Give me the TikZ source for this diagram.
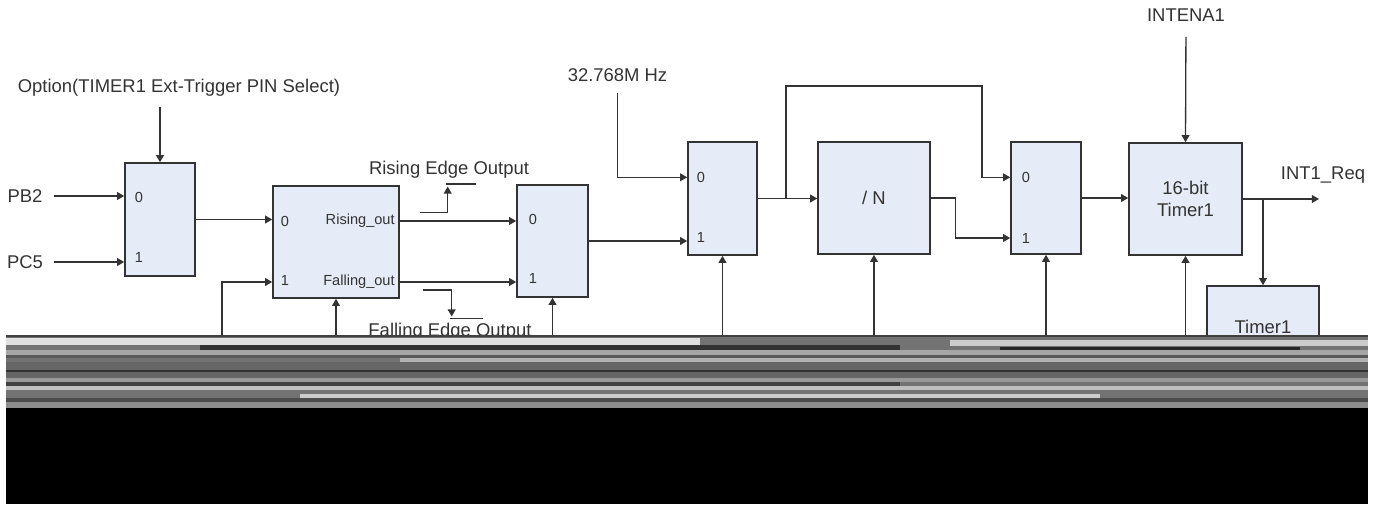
\documentclass[tikz,border=0pt]{standalone}
\usepackage{fontspec}
\setmainfont{Liberation Sans}
\usetikzlibrary{arrows.meta}
\definecolor{boxfill}{RGB}{229,235,247}
\definecolor{ink}{RGB}{51,51,51}
\tikzset{
  blk/.style={draw=ink, line width=0.9pt, fill=boxfill, inner sep=0pt, text=ink,
    font=\fontsize{10.5}{12.3}\selectfont, align=center},
  sig/.style={-{Triangle[length=4pt,width=4.4pt]}, draw=ink, line width=0.75pt},
  lbl/.style={text=ink, font=\fontsize{10.5}{12}\selectfont, inner sep=0pt},
  pinlbl/.style={text=ink, font=\fontsize{8.3}{10}\selectfont, inner sep=0pt},
}
\begin{document}
\begin{tikzpicture}[x=0.02cm, y=-0.02cm]
\useasboundingbox (0,0) rectangle (1383,504);
% blocks
\node[blk, minimum width=1.4cm, minimum height=2.26cm] (mux1) at (160,219.5) {};
\node[blk, minimum width=2.52cm, minimum height=2.24cm] (edge) at (336,242) {};
\node[blk, minimum width=1.42cm, minimum height=2.24cm] (mux3) at (552.5,241) {};
\node[blk, minimum width=1.38cm, minimum height=2.26cm] (mux4) at (722.5,198.5) {};
\node[blk, minimum width=2.24cm, minimum height=2.24cm] (divn) at (874,198) {/ N};
\node[blk, minimum width=1.4cm, minimum height=2.24cm] (mux5) at (1046,198) {};
\node[blk, minimum width=2.26cm, minimum height=2.24cm] (tmr) at (1185.5,199) {16-bit\\Timer1};
\node[blk, minimum width=2.24cm, minimum height=1.64cm] (reg) at (1263,327) {Timer1};
% pin numbers
\node[pinlbl] (m1a) at (139,197) {0};
\node[pinlbl] (m1b) at (139,257) {1};
\node[pinlbl] (e0) at (285,221) {0};
\node[pinlbl] (e1) at (285,280) {1};
\node[pinlbl, anchor=east] (rout) at (395,221) {Rising\_out};
\node[pinlbl, anchor=east] (fout) at (395,282) {Falling\_out};
\node[pinlbl] (m3a) at (533,219) {0};
\node[pinlbl] (m3b) at (533,278) {1};
\node[pinlbl] (m4a) at (701,177.3) {0};
\node[pinlbl] (m4b) at (701,237) {1};
\node[pinlbl] (m5a) at (1026,177.3) {0};
\node[pinlbl] (m5b) at (1026,238) {1};
% signal names
\node[lbl] (opt) at (179,88) {Option(TIMER1 Ext-Trigger PIN Select)};
\node[lbl] (pb2) at (25,196) {PB2};
\node[lbl] (pc5) at (25,262) {PC5};
\node[lbl] (rise) at (449,170) {Rising Edge Output};
\node[lbl] (fall) at (450,331.7) {Falling Edge Output};
\node[lbl] (clk) at (617.5,75) {32.768M Hz};
\node[lbl] (inten) at (1186,15) {INTENA1};
\node[lbl] (req) at (1323,175) {INT1\_Req};
% feeds coming up from below
\foreach \n/\x in {fb1/222, fb2/337, fb3/554, fb4/722, fb5/874, fb6/1046.7, fb7/1186}
  \coordinate (\n) at (\x,345);
\coordinate (br1) at (786,198.5);
\coordinate (lp) at (982,86);
\coordinate (rs0) at (420,212.7);
\coordinate (rs1) at (447.7,186.5);
\coordinate (fs0) at (423,290);
\coordinate (fs1) at (451.7,316.5);
\coordinate (reqend) at (1319,199);
% connections
\draw[sig, shorten <=5.7pt] (opt.south -| mux1.north) -- (mux1.north);
\draw[sig, shorten <=6.3pt] (pb2.east) -- (pb2.east -| mux1.west);
\draw[sig, shorten <=6.3pt] (pc5.east) -- (pc5.east -| mux1.west);
\draw[sig] (mux1.east) -- (mux1.east -| edge.west);
\draw[sig] (fb1) |- (edge.west |- fout);
\draw[sig] (edge.south |- fb2) -- (edge.south);
\draw[sig] (edge.east |- rout) -- (mux3.west |- rout);
\draw[sig] (edge.east |- fout) -- (mux3.west |- fout);
\draw[sig] (rs0) -| (rs1);
\draw[ink, line width=0.75pt] (446,184) -- (476,184);
\draw[sig] (fs0) -| (fs1);
\draw[ink, line width=0.75pt] (450,318.5) -- (483,318.5);
\draw[sig] (mux3.south |- fb3) -- (mux3.south);
\draw[sig] (mux3.east) -- (mux3.east -| mux4.west);
\draw[sig, shorten <=6.6pt] (clk.south) |- (mux4.west |- m4a);
\draw[sig] (mux4.south |- fb4) -- (mux4.south);
\draw[sig] (mux4.east) -- (mux4.east -| divn.west);
\draw[sig] (br1) |- (lp) |- (mux5.west |- m5a);
\draw[sig] (divn.east) -- ++(25,0) |- (mux5.west |- m5b);
\draw[sig] (divn.south |- fb5) -- (divn.south);
\draw[sig] (mux5.south |- fb6) -- (mux5.south);
\draw[sig] (mux5.east) -- (mux5.east -| tmr.west);
\draw[sig, shorten <=8.6pt] (inten.south) -- (tmr.north);
\draw[sig] (tmr.south |- fb7) -- (tmr.south);
\draw[sig] (tmr.east) -- (reqend);
\draw[sig] (tmr.east -| reg.north) -- (reg.north);
% damaged strip
\fill[black!55] (6,335) rectangle (1368,408);
\foreach \ya/\yb/\xa/\xb/\c in {335/337/6/1368/75, 338/345/6/700/12, 340/346/950/1368/20,
    345/350/200/900/80, 347/351/1000/1300/85, 350/355/6/1368/35, 355/358/6/1368/65,
    358/362/400/1368/30, 362/378/6/1368/60, 370/372/6/1368/80, 378/382/6/1368/40,
    382/386/6/900/75, 386/390/6/1368/25, 390/394/6/1368/55, 394/398/300/1100/20,
    398/402/6/1368/70, 402/408/6/1368/45}
  \fill[black!\c] (\xa,\ya) rectangle (\xb,\yb);
\fill[black] (6,408) rectangle (1368,504);
\end{tikzpicture}
\end{document}
